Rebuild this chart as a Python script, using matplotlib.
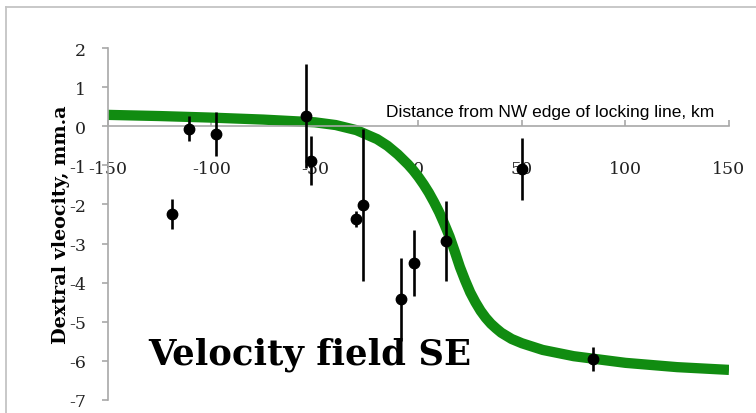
import matplotlib
matplotlib.use("Agg")
import matplotlib.pyplot as plt
from matplotlib.lines import Line2D

# observed velocities with one-sigma error bars
dist_km = [-119, -111, -98, -54.5, -52, -30, -27, -8.5, -2, 13.5, 50, 84.5]
velocity = [-2.25, -0.07, -0.2, 0.26, -0.88, -2.37, -2.01, -4.43, -3.5, -2.93, -1.09, -5.95]
velocity_err = [0.38, 0.32, 0.56, 1.32, 0.62, 0.2, 1.95, 1.05, 0.85, 1.03, 0.8, 0.3]

# model curve across the locking line
model_x = [-150, -125, -100, -75, -50, -40, -30, -20, -15, -10, -5, -2.5, 0, 2.5, 5,
           7.5, 10, 12.5, 15, 17.5, 20, 22.5, 25, 27.5, 30, 32.5, 35, 37.5, 40, 45,
           50, 60, 75, 100, 125, 150]
model_v = [0.29, 0.26, 0.22, 0.17, 0.1, 0.03, -0.1, -0.33, -0.5, -0.72, -0.98, -1.13,
           -1.3, -1.49, -1.7, -1.94, -2.2, -2.5, -2.82, -3.2, -3.6, -3.94, -4.25, -4.5,
           -4.72, -4.9, -5.05, -5.17, -5.28, -5.44, -5.55, -5.72, -5.88, -6.05, -6.16, -6.23]

x_ticks = [-150, -100, -50, 0, 50, 100, 150]
y_ticks = [-7, -6, -5, -4, -3, -2, -1, 0, 1, 2]

plt.rcParams["axes.unicode_minus"] = False
axis_grey = "#a8a8a8"

fig = plt.figure(figsize=(7.56, 4.14), dpi=100)
ax = fig.add_axes([108 / 756, 1 - 401 / 414, 621 / 756, 352 / 414])

ax.plot(model_x, model_v, color="#118c11", lw=7.4, solid_capstyle="butt",
        solid_joinstyle="round", zorder=2)
ax.errorbar(dist_km, velocity, yerr=velocity_err, fmt="o", color="black",
            ms=7.5, elinewidth=1.9, capsize=0, zorder=3)

ax.set_xlim(-150, 150)
ax.set_ylim(-7, 2)
ax.set_xticks(x_ticks)
ax.set_yticks(y_ticks)

for side in ["top", "right"]:
    ax.spines[side].set_visible(False)
ax.spines["bottom"].set_position(("data", 0))
for side in ["left", "bottom"]:
    ax.spines[side].set_color(axis_grey)
    ax.spines[side].set_linewidth(1.2)

ax.tick_params(axis="x", direction="in", length=4, width=1.2, color=axis_grey,
               pad=24, labelcolor="#222222")
ax.tick_params(axis="y", direction="out", length=4, width=1.2, color=axis_grey,
               pad=12, labelcolor="#222222")
for lab in ax.get_xticklabels() + ax.get_yticklabels():
    lab.set_fontfamily("DejaVu Serif")
    lab.set_fontsize(12.5)

ax.set_xlabel("Distance from NW edge of locking line, km", family="Liberation Sans",
              fontsize=12.5, va="center")
ax.xaxis.set_label_coords(0.712, 0.821)
ax.set_ylabel("Dextral vleocity, mm.a", family="DejaVu Serif", fontweight="bold",
              fontsize=13.8, va="center")
ax.yaxis.set_label_coords(-0.076, 0.50)

ax.text(0.065, 0.13, "Velocity field SE", transform=ax.transAxes,
        family="DejaVu Serif", fontweight="bold", fontsize=25.5, va="center", ha="left")

# thin grey frame around the chart area
fig.add_artist(Line2D([5.5 / 756, 5.5 / 756], [0, 1 - 8 / 414], color="#c4c4c4", lw=1.3))
fig.add_artist(Line2D([5.5 / 756, 1], [1 - 8 / 414, 1 - 8 / 414], color="#c4c4c4", lw=1.3))

fig.savefig("out.png", dpi=100)
